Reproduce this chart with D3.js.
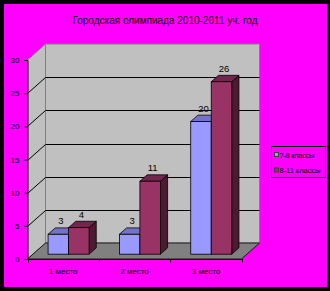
<!DOCTYPE html>
<html>
<head>
<meta charset="utf-8">
<script src="https://cdn.jsdelivr.net/npm/d3@7"></script>
<style>
  body { margin: 0; background: #000; }
  svg { display: block; }
  text { font-family: "Liberation Sans", Arial, sans-serif; fill: #000; }
</style>
</head>
<body>
<svg id="chart" width="330" height="291"></svg>
<script>
// DATA
const title = "Городская олимпиада 2010-2011 уч. год";
const categories = ["1 место", "2 место", "3 место"];
const series_names = ["7-8 классы", "8-11 классы"];
const values_7_8 = [3, 3, 20];
const values_8_11 = [4, 11, 26];
const y_ticks = [0, 5, 10, 15, 20, 25, 30];

// colours: front, top, side
const palette = [
    {front: "#9999ff", top: "#7373cc", side: "#4d4d80"},
    {front: "#993366", top: "#73264d", side: "#4d1a33"}
];

const svg = d3.select("#chart");
svg.append("rect").attr("x", 0).attr("y", 0).attr("width", 330).attr("height", 291).attr("fill", "#000");
svg.append("rect").attr("x", 4).attr("y", 4).attr("width", 323).attr("height", 283).attr("fill", "#ff00ff");

// 3D frame
const x0 = 27.5, x1 = 241.5;
const depth = {dx: 18, dy: -16};
const y = d3.scaleLinear().domain([0, 30]).range([259, 60]);
const x = d3.scaleBand().domain(categories).range([x0, x1]).padding(0);
const xs = d3.scaleBand().domain(series_names).range([0, x.bandwidth()]).paddingInner(0).paddingOuter(0.74);

const off = d => ({x: depth.dx * d, y: depth.dy * d});
const pts = arr => arr.map(p => p.join(",")).join(" ");

// walls
const back = off(1);
svg.append("polygon")
    .attr("points", pts([[x0, y(30)], [x0 + back.x, y(30) + back.y], [x0 + back.x, y(0) + back.y], [x0, y(0)]]))
    .attr("fill", "#c0c0c0").attr("stroke", "#808080");
svg.append("rect")
    .attr("x", x0 + back.x).attr("y", y(30) + back.y)
    .attr("width", x1 - x0).attr("height", y(0) - y(30))
    .attr("fill", "#c0c0c0").attr("stroke", "#808080");
svg.append("polygon")
    .attr("points", pts([[x0, y(0)], [x0 + back.x, y(0) + back.y], [x1 + back.x, y(0) + back.y], [x1, y(0)]]))
    .attr("fill", "#808080").attr("stroke", "#000").attr("stroke-width", 0.8);

// gridlines
const grid = svg.append("g").attr("stroke", "#000").attr("stroke-width", 1);
y_ticks.filter(v => v > 0 && v < 30).forEach(v => {
    grid.append("line")
        .attr("x1", x0).attr("y1", Math.round(y(v)) + 0.5)
        .attr("x2", x0 + back.x).attr("y2", Math.round(y(v) + back.y) + 0.5);
    grid.append("line")
        .attr("x1", x0 + back.x).attr("y1", Math.round(y(v) + back.y) + 0.5)
        .attr("x2", x1 + back.x).attr("y2", Math.round(y(v) + back.y) + 0.5);
});

// bars
const bf = off(0.3), bb = off(0.7);
const rows = categories.map((c, i) => [values_7_8[i], values_8_11[i]]);
const bars = svg.append("g");
rows.forEach((vals, i) => {
    vals.forEach((v, s) => {
        const col = palette[s];
        const lx = x(categories[i]) + xs(series_names[s]);
        const w = xs.bandwidth();
        const yt = y(v), yb = y(0);
        const g = bars.append("g").attr("stroke", "#000").attr("stroke-width", 0.8);
        g.append("polygon")
            .attr("points", pts([[lx + w + bf.x, yt + bf.y], [lx + w + bb.x, yt + bb.y], [lx + w + bb.x, yb + bb.y], [lx + w + bf.x, yb + bf.y]]))
            .attr("fill", col.side);
        g.append("polygon")
            .attr("points", pts([[lx + bf.x, yt + bf.y], [lx + bb.x, yt + bb.y], [lx + w + bb.x, yt + bb.y], [lx + w + bf.x, yt + bf.y]]))
            .attr("fill", col.top);
        g.append("rect")
            .attr("x", lx + bf.x).attr("y", yt + bf.y)
            .attr("width", w).attr("height", yb - yt)
            .attr("fill", col.front);
        svg.append("text")
            .attr("x", lx + w / 2 + bf.x + 2.5)
            .attr("y", yt + bf.y - 10)
            .attr("text-anchor", "middle")
            .attr("font-size", 9.5)
            .text(v);
    });
});

// axes
const yAxis = svg.append("g")
    .attr("transform", `translate(${x0},0)`)
    .call(d3.axisLeft(y).tickValues(y_ticks).tickSize(3).tickPadding(5));
yAxis.selectAll("text").attr("font-size", 8).attr("font-family", "Liberation Sans, Arial, sans-serif");

const xAxis = svg.append("g")
    .attr("transform", `translate(0,${y(0)})`)
    .call(d3.axisBottom(x).tickSize(0).tickPadding(9.5));
xAxis.selectAll("text").attr("font-size", 8).attr("font-family", "Liberation Sans, Arial, sans-serif");
xAxis.select(".domain").attr("d", `M${x0},0.5H${x1}`);
const bounds = categories.map(c => x(c)).concat([x1]);
svg.append("g").selectAll("line").data(bounds).join("line")
    .attr("x1", d => Math.round(d) + 0.5).attr("x2", d => Math.round(d) + 0.5)
    .attr("y1", y(0)).attr("y2", y(0) + 3.5)
    .attr("stroke", "#000");

// title
svg.append("text")
    .attr("x", 165).attr("y", 24)
    .attr("text-anchor", "middle")
    .attr("font-size", 10)
    .text(title);

// legend
const legend = svg.append("g");
legend.append("rect")
    .attr("x", 271.5).attr("y", 146.5).attr("width", 54).attr("height", 31)
    .attr("fill", "none").attr("stroke", "#000");
series_names.forEach((name, s) => {
    const ly = 153 + s * 15.5;
    legend.append("rect")
        .attr("x", 274.5).attr("y", ly - 0.5).attr("width", 4).attr("height", 4)
        .attr("fill", palette[s].front).attr("stroke", "#404040");
    legend.append("text")
        .attr("x", 279.5).attr("y", ly + 4.5)
        .attr("font-size", 7.5)
        .attr("textLength", s === 0 ? 35 : 41)
        .text(name);
});
</script>
</body>
</html>
